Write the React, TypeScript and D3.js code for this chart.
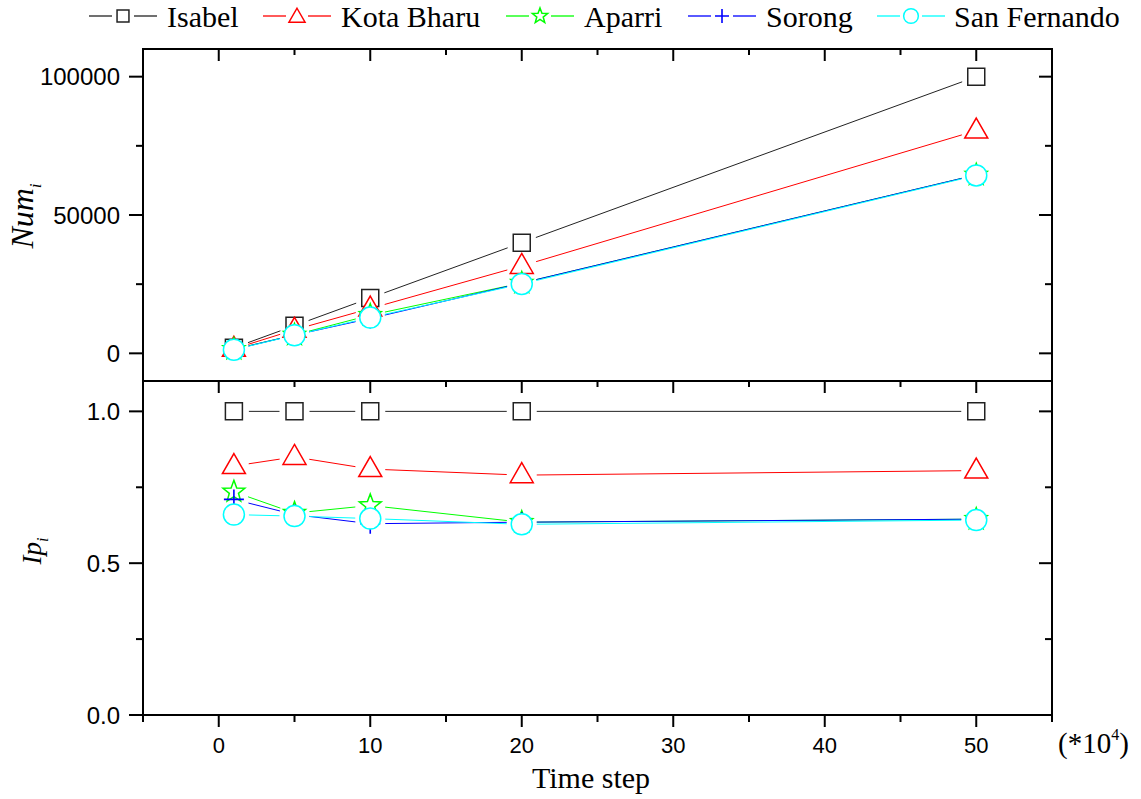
import React from 'react';
import * as d3 from 'd3';

// ---------- data ----------
const timeSteps = [1, 5, 10, 20, 50];
const seriesNames = ['Isabel', 'Kota Bharu', 'Aparri', 'Sorong', 'San Fernando'];
const seriesColors = ['#222222', '#ff0000', '#00ff00', '#0000ff', '#00ffff'];
const seriesMarkers = ['square', 'triangle', 'star', 'plus', 'circle'];

const numIsabel = [2000, 10000, 20000, 40000, 100000];
const numKotaBharu = [1640, 8500, 16200, 31600, 80500];
const numAparri = [1470, 6650, 13800, 25400, 64500];
const numSorong = [1420, 6600, 12600, 25400, 64500];
const numSanFernando = [1320, 6530, 12940, 25080, 64300];

const ipIsabel = [1.0, 1.0, 1.0, 1.0, 1.0];
const ipKotaBharu = [0.82, 0.85, 0.81, 0.79, 0.805];
const ipAparri = [0.735, 0.665, 0.69, 0.635, 0.645];
const ipSorong = [0.71, 0.66, 0.63, 0.635, 0.645];
const ipSanFernando = [0.66, 0.655, 0.647, 0.628, 0.642];

const numSeries = [numIsabel, numKotaBharu, numAparri, numSorong, numSanFernando];
const ipSeries = [ipIsabel, ipKotaBharu, ipAparri, ipSorong, ipSanFernando];

const xMajorTicks = [0, 10, 20, 30, 40, 50];
const xMinorTicks = [-5, 5, 15, 25, 35, 45, 55];
const numMajorTicks = [0, 50000, 100000];
const numMinorTicks = [25000, 75000];
const ipMajorTicks = [0, 0.5, 1.0];
const ipMinorTicks = [0.25, 0.75];
const ipTickLabels = ['0.0', '0.5', '1.0'];

// ---------- layout ----------
const W = 1141;
const H = 799;
const left = 143;
const right = 1052;
const topY = 49;
const midY = 381;
const bottomY = 715;

const legendX = [89, 263, 506, 688, 877];
const legendTextX = [167, 341, 584, 766, 954];

const serif = '"Liberation Serif", "Times New Roman", serif';
const sans = '"Liberation Sans", Arial, sans-serif';

function markerPath(kind: string, s: number): string {
  if (kind === 'square') {
    const h = 8.5 * s;
    return `M${-h},${-h}H${h}V${h}H${-h}Z`;
  }
  if (kind === 'triangle') {
    const w = 11.5 * s;
    return `M0,${-12.5 * s}L${w},${7.5 * s}L${-w},${7.5 * s}Z`;
  }
  if (kind === 'circle') {
    const r = 10.5 * s;
    return `M${r},0A${r},${r} 0 1,1 ${-r},0A${r},${r} 0 1,1 ${r},0Z`;
  }
  if (kind === 'star') {
    const ro = 11.5 * s;
    const ri = 4.8 * s;
    const pts: string[] = [];
    for (let i = 0; i < 10; i++) {
      const a = -Math.PI / 2 + (i * Math.PI) / 5;
      const r = i % 2 === 0 ? ro : ri;
      pts.push(`${(r * Math.cos(a)).toFixed(2)},${(r * Math.sin(a)).toFixed(2)}`);
    }
    return 'M' + pts.join('L') + 'Z';
  }
  // plus
  const a = 10 * s;
  return `M${-a},0H${a}M0,${-a}V${a}`;
}

function Marker({ kind, x, y, color, s = 1 }: { kind: string; x: number; y: number; color: string; s?: number }) {
  return (
    <path
      d={markerPath(kind, s)}
      transform={`translate(${x},${y})`}
      fill={kind === 'plus' ? 'none' : '#ffffff'}
      stroke={color}
      strokeWidth={kind === 'plus' ? 1.6 : 1.5}
    />
  );
}

function gappedSegments(pts: [number, number][], gap: number): string {
  let d = '';
  for (let i = 0; i < pts.length - 1; i++) {
    const [x0, y0] = pts[i];
    const [x1, y1] = pts[i + 1];
    const dx = x1 - x0;
    const dy = y1 - y0;
    const len = Math.hypot(dx, dy);
    if (len <= 2 * gap) continue;
    const ux = dx / len;
    const uy = dy / len;
    d += `M${x0 + ux * gap},${y0 + uy * gap}L${x1 - ux * gap},${y1 - uy * gap}`;
  }
  return d;
}

export default function App() {
  const x = d3.scaleLinear().domain([-5, 55]).range([left, right]);
  const yNum = d3.scaleLinear().domain([-10000, 110000]).range([midY, topY]);
  const yIp = d3.scaleLinear().domain([0, 1.1]).range([bottomY, midY]);

  const axisStroke = '#000';
  const aw = 2;

  const panel = (
    y: d3.ScaleLinear<number, number>,
    y0: number,
    y1: number,
    majors: number[],
    minors: number[],
    labels: string[],
    series: number[][],
    isBottom: boolean,
    key: string
  ) => (
    <g key={key}>
      {/* series */}
      {series.map((vals, si) => {
        const pts: [number, number][] = vals.map((v, i) => [x(timeSteps[i]), y(v)]);
        return (
          <g key={si}>
            <path d={gappedSegments(pts, 15)} fill="none" stroke={seriesColors[si]} strokeWidth={1} />
            {pts.map((p, i) => (
              <Marker key={i} kind={seriesMarkers[si]} x={p[0]} y={p[1]} color={seriesColors[si]} />
            ))}
          </g>
        );
      })}
      {/* frame */}
      <rect x={left} y={y0} width={right - left} height={y1 - y0} fill="none" stroke={axisStroke} strokeWidth={aw} />
      {/* left ticks (outward) */}
      {majors.map((t, i) => (
        <g key={'lm' + i}>
          <line x1={left - 14} x2={left} y1={y(t)} y2={y(t)} stroke={axisStroke} strokeWidth={aw} />
          <line x1={right - 13} x2={right} y1={y(t)} y2={y(t)} stroke={axisStroke} strokeWidth={aw} />
          <text x={120} y={y(t)} dy="0.36em" textAnchor="end" fontFamily={sans} fontSize={24} fill="#000">
            {labels[i]}
          </text>
        </g>
      ))}
      {minors.map((t, i) => (
        <g key={'ln' + i}>
          <line x1={left - 7} x2={left} y1={y(t)} y2={y(t)} stroke={axisStroke} strokeWidth={aw} />
          <line x1={right - 7} x2={right} y1={y(t)} y2={y(t)} stroke={axisStroke} strokeWidth={aw} />
        </g>
      ))}
      {/* top ticks (inward) */}
      {xMajorTicks.map((t) => (
        <line key={'tm' + t} x1={x(t)} x2={x(t)} y1={y0} y2={y0 + 12} stroke={axisStroke} strokeWidth={aw} />
      ))}
      {xMinorTicks.map((t) => (
        <line key={'tn' + t} x1={x(t)} x2={x(t)} y1={y0} y2={y0 + 6} stroke={axisStroke} strokeWidth={aw} />
      ))}
      {isBottom && (
        <g>
          {xMajorTicks.map((t) => (
            <g key={'bm' + t}>
              <line x1={x(t)} x2={x(t)} y1={y1} y2={y1 + 12} stroke={axisStroke} strokeWidth={aw} />
              <text x={x(t)} y={753} textAnchor="middle" fontFamily={sans} fontSize={22} fill="#000">
                {t}
              </text>
            </g>
          ))}
          {xMinorTicks.map((t) => (
            <line key={'bn' + t} x1={x(t)} x2={x(t)} y1={y1} y2={y1 + 7} stroke={axisStroke} strokeWidth={aw} />
          ))}
        </g>
      )}
    </g>
  );

  return (
    <svg width={W} height={H} viewBox={`0 0 ${W} ${H}`} style={{ display: 'block', position: 'absolute', left: 0, top: 0, background: '#fff' }}>
      <rect width={W} height={H} fill="#fff" />
      {/* legend */}
      {seriesNames.map((name, i) => {
        const lx = legendX[i];
        const cx = lx + 34;
        return (
          <g key={name}>
            <line x1={lx} x2={cx - 11} y1={16} y2={16} stroke={seriesColors[i]} strokeWidth={1.3} />
            <line x1={cx + 11} x2={lx + 68} y1={16} y2={16} stroke={seriesColors[i]} strokeWidth={1.3} />
            <Marker kind={seriesMarkers[i]} x={cx} y={i === 1 ? 17 : 16} color={seriesColors[i]} s={0.7} />
            <text x={legendTextX[i]} y={27} fontFamily={serif} fontSize={30} fill="#000">
              {name}
            </text>
          </g>
        );
      })}

      {panel(yNum, topY, midY, numMajorTicks, numMinorTicks, numMajorTicks.map(String), numSeries, false, 'top')}
      {panel(yIp, midY, bottomY, ipMajorTicks, ipMinorTicks, ipTickLabels, ipSeries, true, 'bottom')}

      {/* axis titles */}
      <text transform="translate(33,216) rotate(-90)" textAnchor="middle" fontFamily={serif} fontStyle="italic" fontSize={32} fill="#000">
        Num<tspan fontSize={17} dy={8}>i</tspan>
      </text>
      <text transform="translate(41,551) rotate(-90)" textAnchor="middle" fontFamily={serif} fontStyle="italic" fontSize={27} fill="#000">
        Ip<tspan fontSize={16} dy={7}>i</tspan>
      </text>
      <text x={591} y={788} textAnchor="middle" fontFamily={serif} fontSize={30} fill="#000">
        Time step
      </text>
      <text x={1058} y={753} fontFamily={serif} fontSize={29} fill="#000">
        (*10<tspan fontSize={16} dy={-13}>4</tspan>
        <tspan dy={13}>)</tspan>
      </text>
    </svg>
  );
}
